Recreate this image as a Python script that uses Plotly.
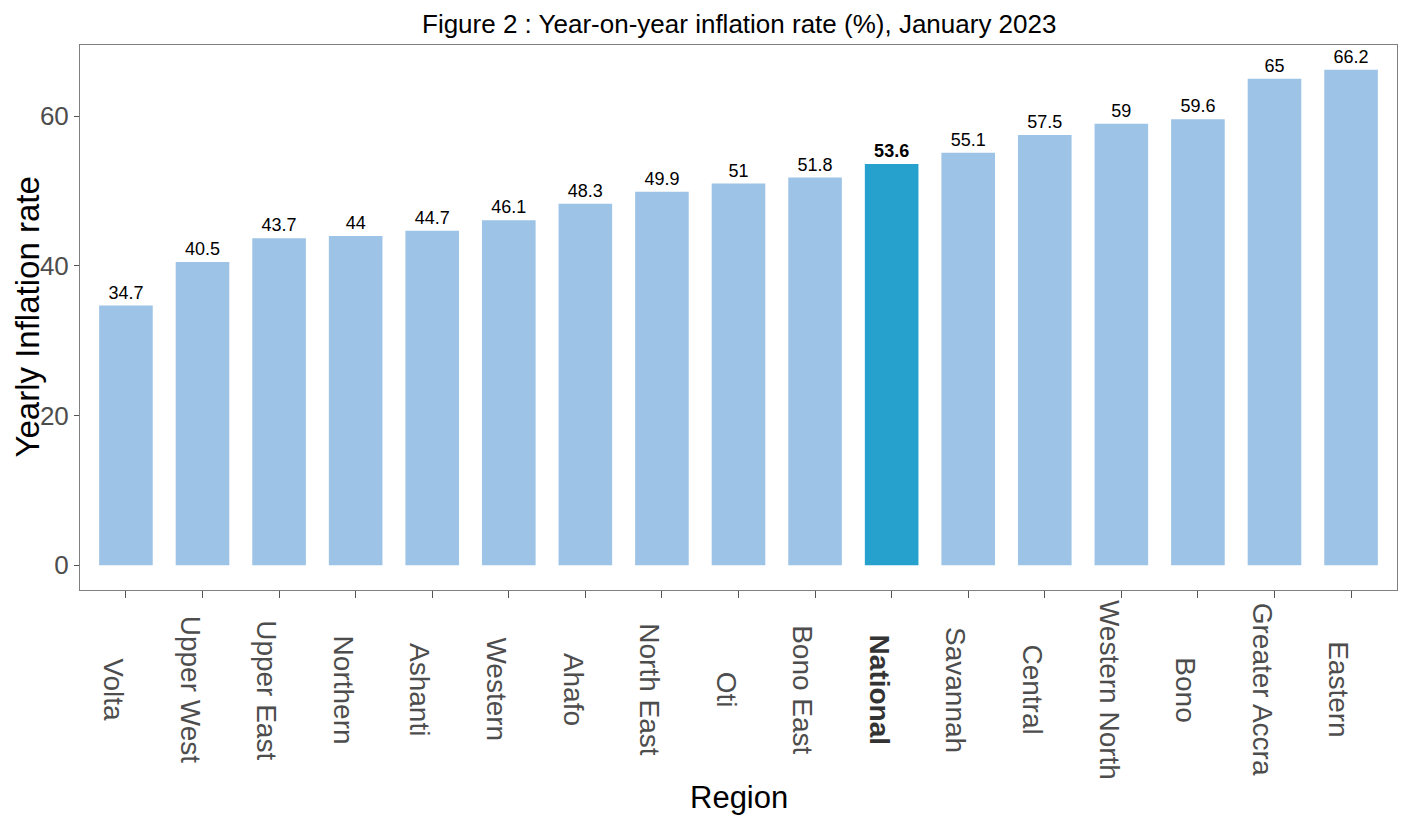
import plotly.graph_objects as go

regions = ["Volta", "Upper West", "Upper East", "Northern", "Ashanti", "Western",
           "Ahafo", "North East", "Oti", "Bono East", "National", "Savannah",
           "Central", "Western North", "Bono", "Greater Accra", "Eastern"]
values = [34.7, 40.5, 43.7, 44, 44.7, 46.1, 48.3, 49.9, 51, 51.8, 53.6, 55.1,
          57.5, 59, 59.6, 65, 66.2]
highlight = "National"
y_ticks = [0, 20, 40, 60]

FONT = "Liberation Sans, Arial, sans-serif"
LIGHT = "#9DC3E6"
DARK = "#26A0CC"

colors = [DARK if r == highlight else LIGHT for r in regions]
labels = [f"<b>{v:g}</b>" if r == highlight else f"{v:g}" for r, v in zip(regions, values)]

fig = go.Figure()
fig.add_trace(go.Bar(
    x=regions, y=values, width=0.7,
    marker=dict(color=colors, line=dict(width=0)),
    text=labels, textposition="outside", cliponaxis=False,
    textfont=dict(family=FONT, size=18, color="black"),
    constraintext="none",
    hoverinfo="x+y",
))

# rotated, vertically centred category labels
for r in regions:
    txt = f"<b>{r}</b>" if r == highlight else r
    fig.add_annotation(
        x=r, xref="x", y=-0.183, yref="paper",
        text=txt, textangle=90, showarrow=False,
        xanchor="right", yanchor="middle", xshift=5,
        font=dict(family=FONT, size=28, color="#4D4D4D" if r != highlight else "#333333"),
    )

# title and axis titles
fig.add_annotation(x=0.5, xref="paper", y=1.0385, yref="paper",
                   text="Figure 2 : Year-on-year inflation rate (%), January 2023",
                   showarrow=False, xanchor="center", yanchor="middle",
                   font=dict(family=FONT, size=26, color="black"))
fig.add_annotation(x=0.5, xref="paper", y=-0.38, yref="paper",
                   text="Region", showarrow=False, xanchor="center", yanchor="middle",
                   font=dict(family=FONT, size=31, color="black"))
fig.add_annotation(x=0, xref="paper", xshift=-53, y=0.5, yref="paper",
                   text="Yearly Inflation rate", textangle=-90, showarrow=False,
                   xanchor="center", yanchor="middle",
                   font=dict(family=FONT, size=33, color="black"))

fig.update_layout(
    width=1406, height=820,
    margin=dict(l=72, r=17, t=37, b=238, autoexpand=False),
    plot_bgcolor="white", paper_bgcolor="white",
    showlegend=False, bargap=0.3,
    font=dict(family=FONT),
)
fig.update_xaxes(
    type="category", range=[-0.6, len(regions) - 0.4], automargin=False,
    showticklabels=False, ticks="outside", ticklen=7, tickcolor="#555555",
    showline=True, linecolor="#7F7F7F", linewidth=1, mirror=True,
    showgrid=False, zeroline=False,
)
fig.update_yaxes(
    range=[-3.31, 69.51], tickvals=y_ticks, ticktext=[str(t) for t in y_ticks],
    automargin=False,
    ticks="outside", ticklen=5, tickcolor="#555555",
    tickfont=dict(family=FONT, size=26, color="#4D4D4D"),
    showline=True, linecolor="#7F7F7F", linewidth=1, mirror=True,
    showgrid=False, zeroline=False,
)

fig.write_html("out.html")
